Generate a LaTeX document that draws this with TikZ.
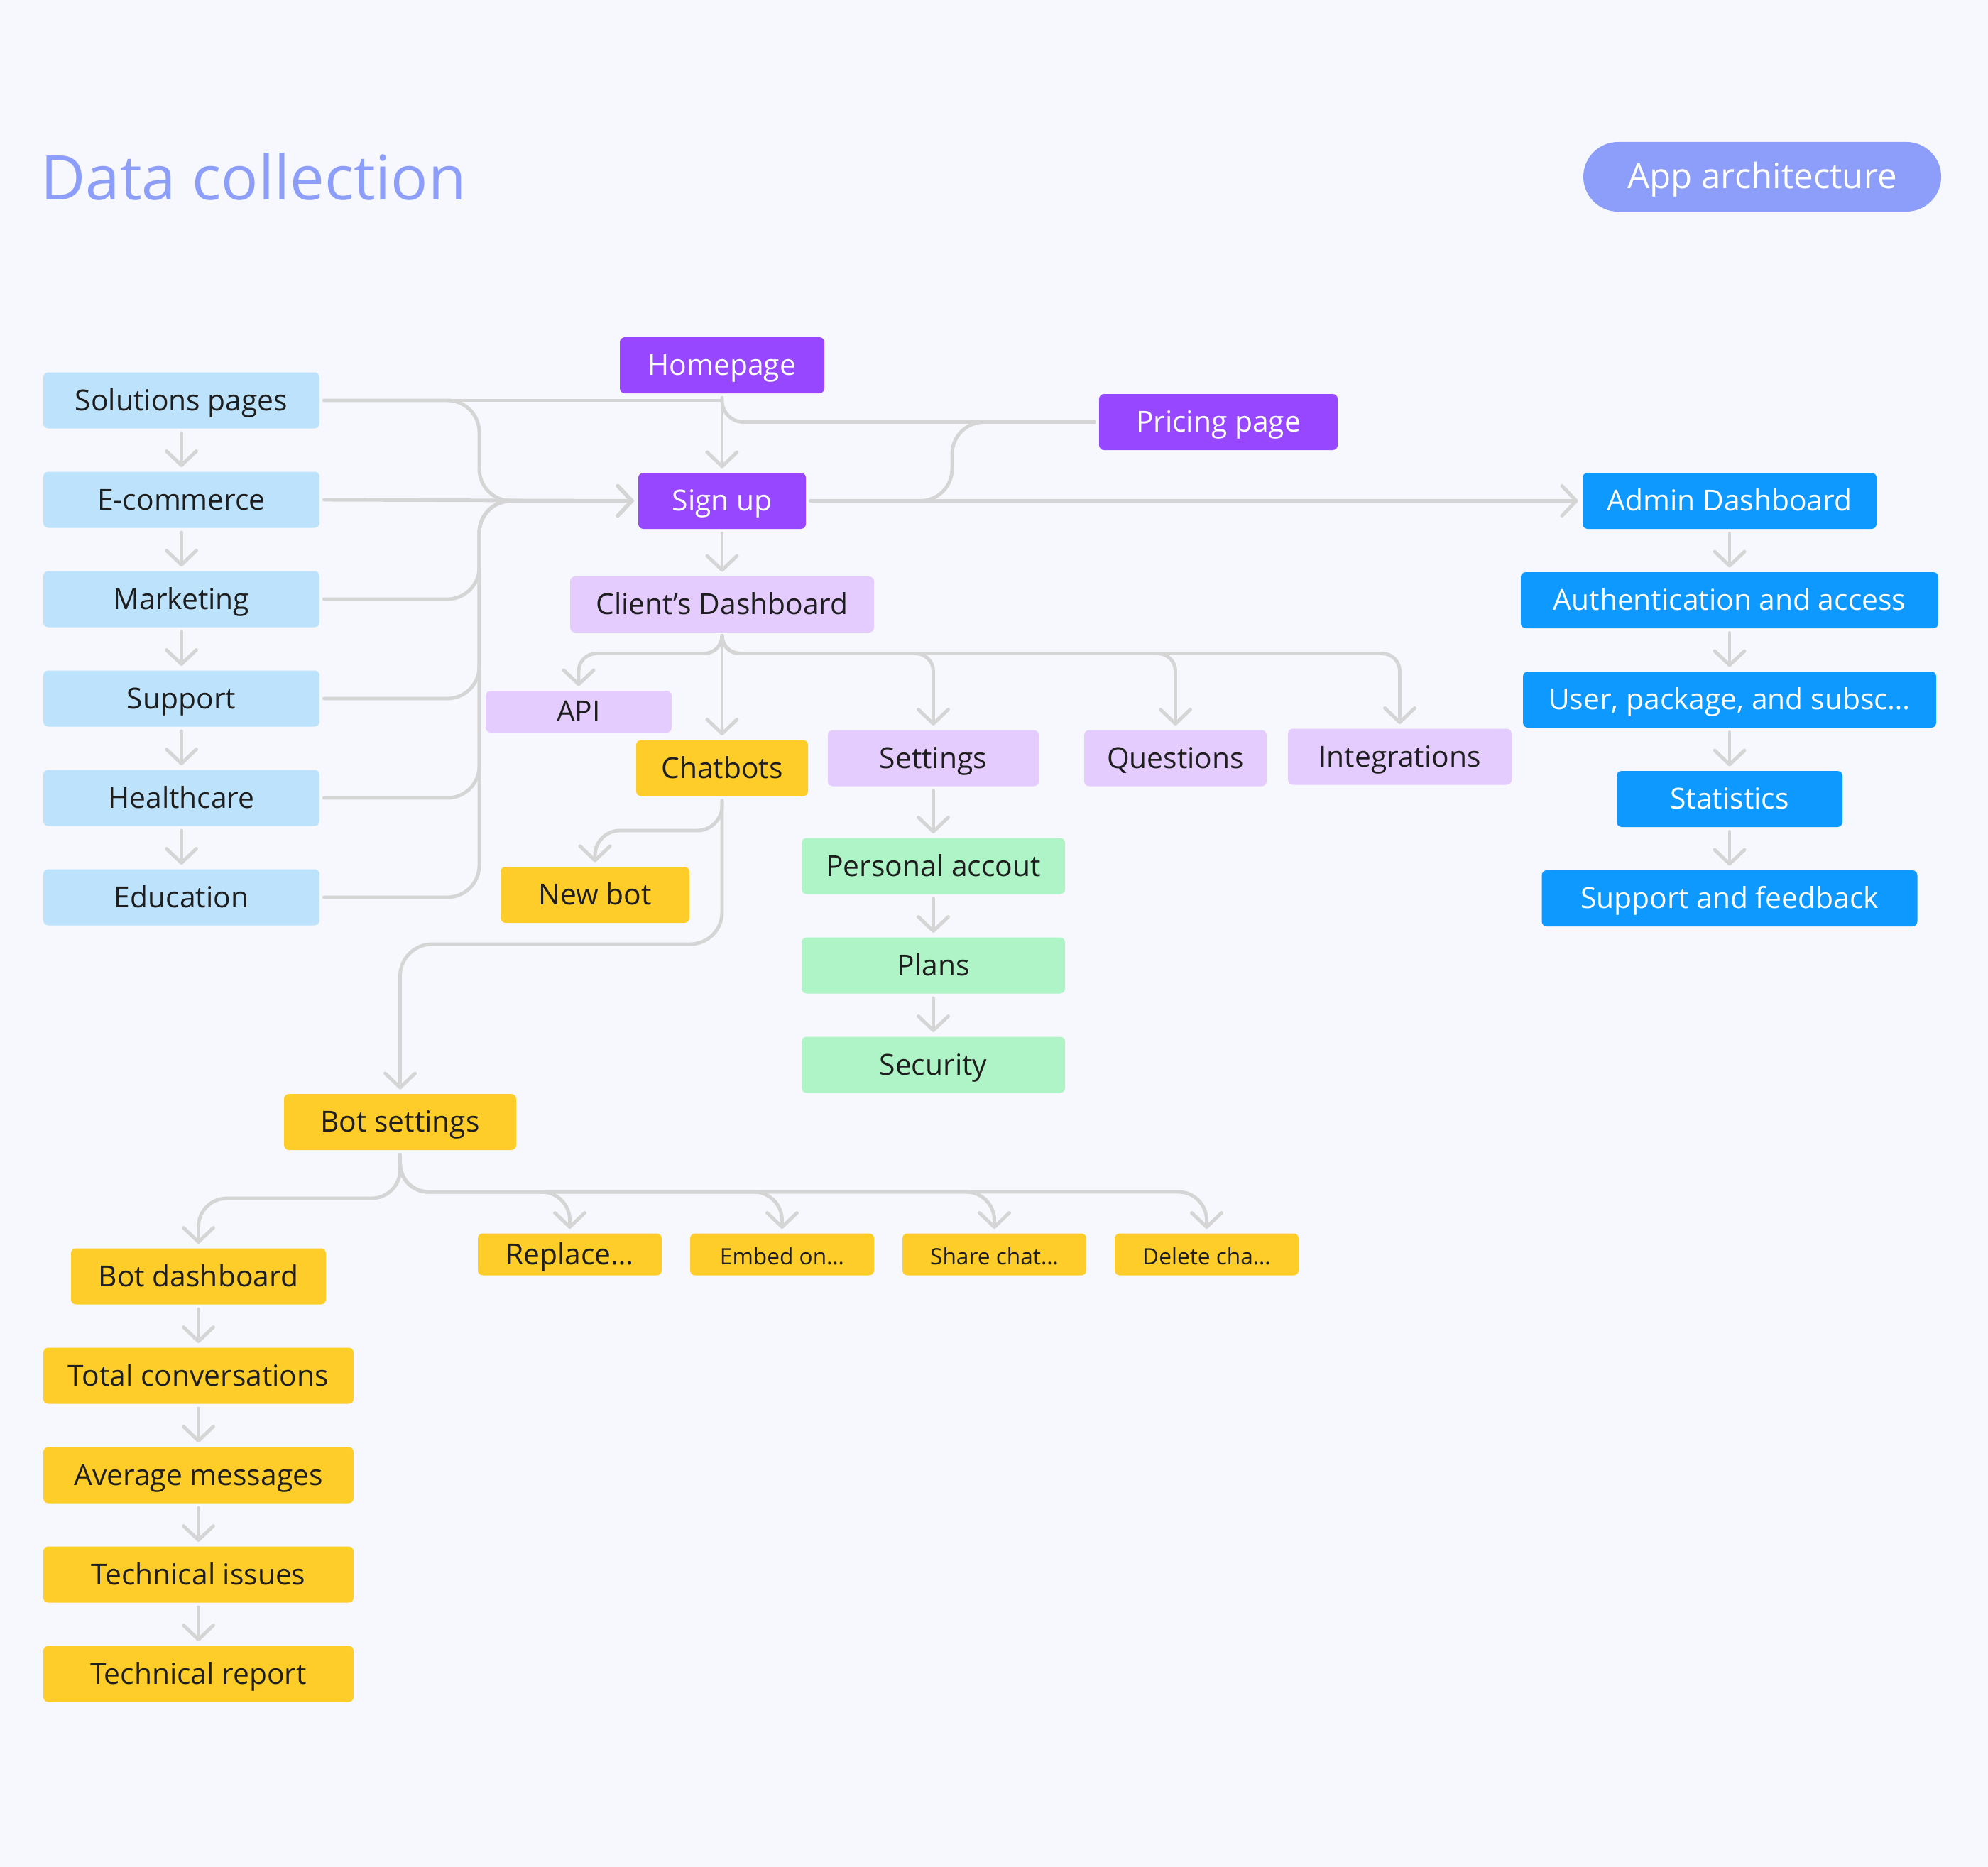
\documentclass[tikz,border=0pt]{standalone}
\usepackage{fontspec}
\setmainfont{Open Sans}
\usetikzlibrary{
    arrows.meta,
    positioning
}
\definecolor{canvas}{HTML}{F6F8FD}
\definecolor{wire}{HTML}{D5D5D5}
\definecolor{ink}{HTML}{1E1E1E}
\definecolor{skyfill}{HTML}{BDE3FC}
\definecolor{grape}{HTML}{9747FF}
\definecolor{azure}{HTML}{0D99FF}
\definecolor{lilac}{HTML}{E4CCFF}
\definecolor{amber}{HTML}{FFCD29}
\definecolor{mint}{HTML}{AFF4C6}
\definecolor{periwinkle}{HTML}{8C9EF9}
\newcommand{\boxfont}{\fontsize{11.6}{14}\selectfont}
\newcommand{\smallboxfont}{\fontsize{9}{11}\selectfont}
\tikzstyle{page} = [
    rectangle,
    rounded corners=2pt,
    minimum height=0.79cm,
    inner sep=0pt,
    outer sep=0.065cm,
    text height=1.0em,
    text depth=0.2em,
    text=ink,
    font=\boxfont
]
\tikzstyle{source} = [page, fill=skyfill, minimum width=3.89cm]
\tikzstyle{entry} = [page, fill=grape, text=white]
\tikzstyle{admin} = [page, fill=azure, text=white]
\tikzstyle{client} = [page, fill=lilac]
\tikzstyle{bot} = [page, fill=amber]
\tikzstyle{action} = [bot, minimum width=2.59cm, minimum height=0.59cm]
\tikzstyle{account} = [page, fill=mint, minimum width=3.71cm]
\tikzstyle{pill} = [
    rectangle,
    rounded corners=0.49cm,
    fill=periwinkle,
    text=white,
    minimum width=5.04cm,
    minimum height=0.98cm,
    text height=1.07em,
    text depth=0.15em,
    font=\fontsize{14}{16}\selectfont
]
\tikzstyle{link} = [
    draw=wire,
    line width=1.4pt,
    line cap=round,
    line join=round
]
\tikzstyle{arrow} = [
    link,
    -{Straight Barb[length=0.2cm, width=0.42cm, round]}
]

\begin{document}
\begin{tikzpicture}[node distance=0.48cm]
        % Canvas
        \fill[canvas] (0,0) rectangle (28,-26.3);
        \useasboundingbox (0,0) rectangle (28,-26.3);

        % Headings
        \node[anchor=base west, inner sep=0pt, text=periwinkle, font=\fontsize{24.7}{30}\selectfont] (title) at (0.57,-2.82) {Data collection};
        \node[pill] (tag) at (24.82,-2.49) {App architecture};

        % Sources
        \node[source] (solutions) at (2.555,-5.64) {Solutions pages};
        \node[source, below=of solutions] (ecommerce) {E-commerce};
        \node[source, below=of ecommerce] (marketing) {Marketing};
        \node[source, below=of marketing] (support) {Support};
        \node[source, below=of support] (healthcare) {Healthcare};
        \node[source, below=of healthcare] (education) {Education};

        % Entry pages
        \node[entry, minimum width=2.88cm] (homepage) at (10.17,-5.145) {Homepage};
        \node[entry, minimum width=2.36cm] (signup) at (10.17,-7.055) {Sign up};
        \node[entry, minimum width=3.36cm] (pricing) at (17.16,-5.945) {Pricing page};

        % Admin side
        \node[admin, minimum width=4.14cm] (admin) at (24.36,-7.055) {Admin Dashboard};
        \node[admin, minimum width=5.88cm, below=of admin] (auth) {Authentication and access};
        \node[admin, minimum width=5.82cm, below=of auth] (users) {User, package, and subsc…};
        \node[admin, minimum width=3.18cm, below=of users] (stats) {Statistics};
        \node[admin, minimum width=5.29cm, below=of stats] (feedback) {Support and feedback};

        % Client side
        \node[client, minimum width=4.28cm] (clientdash) at (10.17,-8.515) {Client’s Dashboard};
        \node[client, minimum width=2.62cm, minimum height=0.59cm] (api) at (8.15,-10.025) {API};
        \node[bot, minimum width=2.42cm] (chatbots) at (10.17,-10.82) {Chatbots};
        \node[client, minimum width=2.97cm] (settings) at (13.145,-10.68) {Settings};
        \node[client, minimum width=2.57cm] (questions) at (16.555,-10.68) {Questions};
        \node[client, minimum width=3.15cm] (integrations) at (19.715,-10.66) {Integrations};
        \node[account, below=0.6cm of settings] (personal) {Personal accout};
        \node[account, below=of personal] (plans) {Plans};
        \node[account, below=of plans] (security) {Security};

        % Bots
        \node[bot, minimum width=2.66cm] (newbot) at (8.38,-12.605) {New bot};
        \node[bot, minimum width=3.27cm] (botsettings) at (5.635,-15.805) {Bot settings};
        \node[action] (replace) at (8.025,-17.67) {Replace…};
        \node[action, font=\smallboxfont, right=0.27cm of replace] (embed) {Embed on…};
        \node[action, font=\smallboxfont, right=0.27cm of embed] (share) {Share chat…};
        \node[action, font=\smallboxfont, right=0.27cm of share] (delete) {Delete cha…};
        \node[bot, minimum width=3.59cm] (botdash) at (2.795,-17.98) {Bot dashboard};
        \node[bot, minimum width=4.37cm, below=of botdash] (totalconv) {Total conversations};
        \node[bot, minimum width=4.37cm, below=of totalconv] (avgmsg) {Average messages};
        \node[bot, minimum width=4.37cm, below=of avgmsg] (techissues) {Technical issues};
        \node[bot, minimum width=4.37cm, below=of techissues] (techreport) {Technical report};

        % Chains
        \foreach \a/\b in {solutions/ecommerce, ecommerce/marketing, marketing/support, support/healthcare, healthcare/education,
                           admin/auth, auth/users, users/stats, stats/feedback,
                           settings/personal, personal/plans, plans/security,
                           botdash/totalconv, totalconv/avgmsg, avgmsg/techissues, techissues/techreport}
            \draw[arrow] (\a.south) -- (\b.north);

        % Sources into sign up
        \coordinate (merge) at (6.75,-7.055);
        \draw[arrow] (ecommerce.east) -- (signup.west);
        \foreach \src in {solutions, marketing, support, healthcare, education}
            \draw[arrow, rounded corners=0.45cm] (\src.east) -| (merge) -- (signup.west);

        % Entry pages
        \draw[link] (solutions.east) -| (homepage.south);
        \draw[arrow] (homepage.south) -- (signup.north);
        \draw[link, rounded corners=0.3cm] (homepage.south) |- (pricing.west);
        \draw[link, rounded corners=0.45cm] (pricing.west) -| (13.41,-7.055) -- (signup.east);
        \draw[arrow] (signup.east) -- (admin.west);
        \draw[arrow] (signup.south) -- (clientdash.north);

        % Client's dashboard branches
        \draw[arrow] (clientdash.south) -- (chatbots.north);
        \foreach \dst in {api, settings, questions, integrations}
            \draw[arrow, rounded corners=0.25cm] (clientdash.south) -- ++(0,-0.23) -| (\dst.north);

        % Chatbots branches
        \draw[arrow, rounded corners=0.35cm] (chatbots.south) -- ++(0,-0.42) -| (newbot.north);
        \draw[arrow, rounded corners=0.45cm] (chatbots.south) -- ++(0,-2.02) -| (botsettings.north);

        % Bot settings branches
        \draw[arrow, rounded corners=0.4cm] (botsettings.south) -- ++(0,-0.615) -| (botdash.north);
        \foreach \dst in {replace, embed, share, delete}
            \draw[arrow, rounded corners=0.4cm] (botsettings.south) -- ++(0,-0.525) -| (\dst.north);
    \end{tikzpicture}
\end{document}
